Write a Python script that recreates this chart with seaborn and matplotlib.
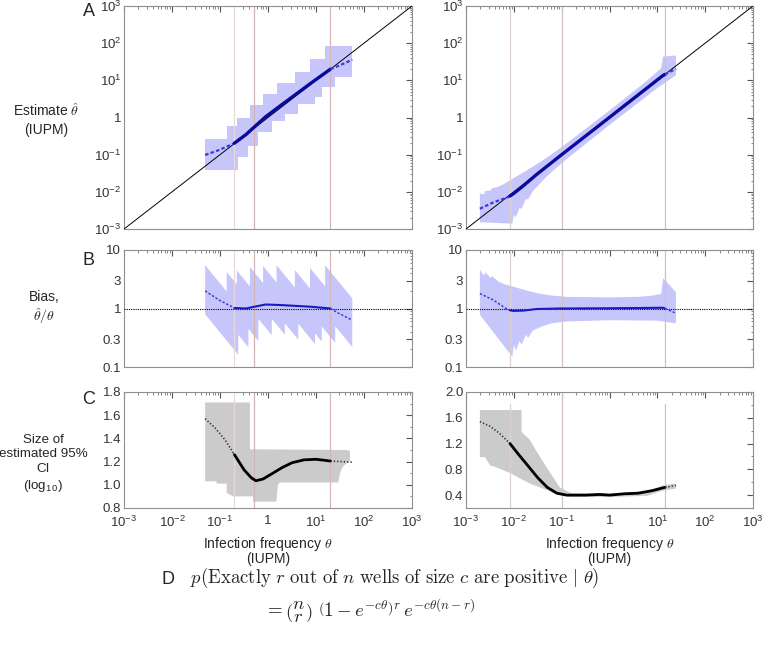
import numpy as np
import matplotlib
matplotlib.use("Agg")
import matplotlib.pyplot as plt
import seaborn as sns
from matplotlib.ticker import LogLocator, FixedLocator, FixedFormatter, NullFormatter, MultipleLocator

# ---------------- data ----------------
axis_range = [1e-3, 1e3]                       # identity line / x-range
x_ticks = [1e-3, 1e-2, 1e-1, 1, 1e1, 1e2, 1e3]
x_tick_labels = [r'$\mathregular{10^{-3}}$', r'$\mathregular{10^{-2}}$', r'$\mathregular{10^{-1}}$', '1',
                 r'$\mathregular{10^{1}}$', r'$\mathregular{10^{2}}$', r'$\mathregular{10^{3}}$']
bias_ticks = [0.1, 0.3, 1, 3, 10]
bias_tick_labels = ['0.1', '0.3', '1', '3', '10']

# vertical reference lines (theta)
vlines_L = [0.2, 0.5, 20]
vlines_R = [0.0083, 0.1, 14.5]

# ---- left column ----
# estimate band (staircase): edges along theta and level between edges
est_hi_edges_L = [0.049, 0.138, 0.224, 0.42, 0.79, 1.51, 3.63, 7.5, 15.5, 57]
est_hi_L = [0.27, 0.58, 1.0, 2.15, 4.2, 8.3, 16.5, 37, 85]
est_lo_edges_L = [0.049, 0.24, 0.39, 0.63, 1.2, 2.24, 4.27, 9.55, 13.2, 25.1, 57]
est_lo_L = [0.039, 0.085, 0.175, 0.42, 0.80, 1.25, 2.35, 3.6, 6.5, 12.5]
# mean bias (theta_hat / theta)
theta_L = [0.049, 0.095, 0.2, 0.35, 0.51, 0.89, 1.66, 3.63, 8.1, 20, 29.5, 57]
bias_L = [2.0, 1.4, 1.02, 1.0, 1.07, 1.17, 1.15, 1.11, 1.07, 1.0, 0.83, 0.63]
# CI size
ci_theta_L = [0.049, 0.079, 0.126, 0.2, 0.316, 0.45, 0.56, 0.79, 1.26, 2.0, 3.16, 5.6, 10, 20, 57]
ci_L = [1.57, 1.49, 1.39, 1.26, 1.13, 1.06, 1.035, 1.05, 1.10, 1.15, 1.19, 1.215, 1.22, 1.205, 1.195]
ci_hi_theta_L = [0.049, 0.42, 0.42, 44, 51, 51, 37, 32, 29]
ci_hi_L = [1.71, 1.71, 1.306, 1.30, 1.29, 1.21, 1.16, 1.11, 1.02]
ci_lo_theta_L = [0.049, 0.085, 0.085, 0.138, 0.138, 0.19, 0.49, 0.49, 1.5, 1.6, 1.78, 29]
ci_lo_L = [1.03, 1.03, 1.01, 1.01, 0.93, 0.90, 0.90, 0.855, 0.855, 1.0, 1.02, 1.02]

# ---- right column ----
bias_hi_theta_R = [0.00195, 0.0024, 0.0025, 0.0033, 0.00347, 0.0047, 0.0063, 0.01, 0.0158, 0.0316,
                   0.063, 0.126, 1.0, 3.98, 7.9, 12.0, 13.2, 24.5]
bias_hi_R = [4.6, 3.6, 4.2, 3.3, 3.6, 2.9, 2.6, 2.35, 2.1, 1.82, 1.66, 1.58, 1.55, 1.58, 1.66, 1.78, 3.3, 1.9]
bias_lo_theta_R = [0.00195, 0.0093, 0.01, 0.011, 0.0132, 0.0145, 0.0178, 0.02, 0.025, 0.04, 0.063,
                   0.126, 1.0, 10, 13.2, 24.5]
bias_lo_R = [0.78, 0.15, 0.24, 0.19, 0.28, 0.24, 0.355, 0.316, 0.42, 0.50, 0.56, 0.60, 0.63, 0.62, 0.60, 0.56]
theta_R = [0.00195, 0.0037, 0.0071, 0.0083, 0.0098, 0.0158, 0.030, 0.091, 1.0, 4.0, 12.9, 14.5, 17.8, 24.5]
bias_R = [1.8, 1.4, 0.98, 0.93, 0.91, 0.92, 0.98, 1.0, 1.01, 1.02, 1.03, 1.0, 0.93, 0.83]
ci_theta_R = [0.00195, 0.00316, 0.005, 0.0083, 0.0126, 0.02, 0.0316, 0.05, 0.079, 0.126, 0.316, 0.63,
              1.0, 2.0, 4.0, 7.9, 14.5, 24.5]
ci_R = [1.54, 1.47, 1.36, 1.20, 1.03, 0.85, 0.67, 0.52, 0.43, 0.40, 0.40, 0.41, 0.40, 0.42, 0.43, 0.47, 0.52, 0.55]
ci_hi_theta_R = [0.00195, 0.0145, 0.0145, 0.0214, 0.0347, 0.056, 0.091, 0.158, 1.0, 6.3, 12.6, 24.5]
ci_hi_R = [1.72, 1.72, 1.38, 1.26, 1.0, 0.76, 0.52, 0.43, 0.42, 0.46, 0.55, 0.58]
ci_lo_theta_R = [0.00195, 0.0025, 0.0032, 0.004, 0.0085, 0.0214, 0.048, 0.091, 0.158, 1.0, 6.3, 12.6, 24.5]
ci_lo_R = [0.99, 0.99, 0.86, 0.84, 0.74, 0.58, 0.48, 0.40, 0.37, 0.37, 0.39, 0.47, 0.50]

# ---------------- style ----------------
sns.set_theme(style="white")
plt.rcParams['font.family'] = ['Liberation Sans', 'DejaVu Sans']
plt.rcParams['mathtext.fontset'] = 'cm'

BAND_BLUE = '#c6c6fb'
BAND_GRAY = '#cbcbcb'
LINE_BLUE = '#0a0a9c'
DASH_BLUE = '#3a3ae0'
VL_COLS = ['#ead8d8', '#d2b4b4', '#d4b8b8']
VL_COLS_R = ['#ddd0d0', '#d0c2c2', '#d2c0c0']

fig = plt.figure(figsize=(7.63, 6.49), dpi=100)
W, H = 763.0, 649.0
cols = [(124, 412), (466, 753)]
rows = [(6, 229), (250, 367), (392, 508)]


def make_ax(c, r):
    x0, x1 = cols[c]
    y0, y1 = rows[r]
    return fig.add_axes([x0 / W, 1 - y1 / H, (x1 - x0) / W, (y1 - y0) / H])


def style(ax, xlabels):
    for s in ax.spines.values():
        s.set_color('#8f8f8f')
        s.set_linewidth(0.8)
    ax.set_xscale('log')
    ax.set_xlim(axis_range)
    ax.xaxis.set_major_locator(FixedLocator(x_ticks))
    ax.xaxis.set_minor_locator(LogLocator(base=10, subs=np.arange(2, 10), numticks=20))
    ax.xaxis.set_minor_formatter(NullFormatter())
    if xlabels:
        ax.xaxis.set_major_formatter(FixedFormatter(x_tick_labels))
    else:
        ax.xaxis.set_major_formatter(NullFormatter())
    ax.tick_params(which='both', direction='in', top=True, right=True, colors='#555555',
                   labelsize=9.5, labelcolor='#333333', pad=2)
    ax.tick_params(axis='x', which='major', pad=5)
    ax.tick_params(which='major', length=4, width=0.8)
    ax.tick_params(which='minor', length=1.8, width=0.5)
    ax.grid(False)


def polygon(ax, tx_hi, y_hi, tx_lo, y_lo, color):
    xs = np.concatenate([np.asarray(tx_hi, float), np.asarray(tx_lo, float)[::-1]])
    ys = np.concatenate([np.asarray(y_hi, float), np.asarray(y_lo, float)[::-1]])
    ax.fill(xs, ys, color=color, lw=0, zorder=1)


def stairs(edges, levels):
    e = np.asarray(edges, float)
    l = np.asarray(levels, float)
    return np.repeat(e, 2)[1:-1], np.repeat(l, 2)


def seg_plot(ax, th, vals, t1, t3, c_d, c_s, lw_d, lw_s, ls_d):
    th = np.asarray(th, float)
    vals = np.asarray(vals, float)
    m1 = th <= t1 * 1.0001
    m2 = (th >= t1 * 0.9999) & (th <= t3 * 1.0001)
    m3 = th >= t3 * 0.9999
    for m, c, lw, ls in [(m1, c_d, lw_d, ls_d), (m2, c_s, lw_s, '-'), (m3, c_d, lw_d, ls_d)]:
        sns.lineplot(x=th[m], y=vals[m], ax=ax, color=c, lw=lw, linestyle=ls,
                     estimator=None, sort=False, legend=False, zorder=4)


def vlines(ax, ts, colors, partial=None):
    for i, (t, c) in enumerate(zip(ts, colors)):
        if partial is not None and i in partial[0]:
            ax.axvline(t, ymax=partial[1], color=c, lw=0.9, zorder=2)
        else:
            ax.axvline(t, color=c, lw=0.9, zorder=2)


# ---------- build band vertices ----------
hx_L, hy_L = stairs(est_hi_edges_L, est_hi_L)
lx_L, ly_L = stairs(est_lo_edges_L, est_lo_L)
theta_L_a = np.asarray(theta_L)
est_L = np.asarray(bias_L) * theta_L_a

th_hi_R = np.asarray(bias_hi_theta_R)
th_lo_R = np.asarray(bias_lo_theta_R)
theta_R_a = np.asarray(theta_R)
est_R = np.asarray(bias_R) * theta_R_a

for c in range(2):
    axA = make_ax(c, 0)
    axB = make_ax(c, 1)
    axC = make_ax(c, 2)
    style(axA, False)
    style(axB, False)
    style(axC, True)

    # ----- A -----
    axA.set_yscale('log')
    axA.set_ylim(axis_range)
    axA.yaxis.set_major_locator(FixedLocator(x_ticks))
    axA.yaxis.set_major_formatter(FixedFormatter(x_tick_labels))
    axA.yaxis.set_minor_locator(LogLocator(base=10, subs=np.arange(2, 10), numticks=20))
    axA.yaxis.set_minor_formatter(NullFormatter())
    sns.lineplot(x=axis_range, y=axis_range, ax=axA, color='black', lw=0.7, zorder=3, legend=False)

    # ----- B -----
    axB.set_yscale('log')
    axB.set_ylim(0.1, 10)
    axB.yaxis.set_major_locator(FixedLocator(bias_ticks))
    axB.yaxis.set_major_formatter(FixedFormatter(bias_tick_labels))
    axB.yaxis.set_minor_locator(LogLocator(base=10, subs=np.arange(2, 10), numticks=20))
    axB.yaxis.set_minor_formatter(NullFormatter())
    axB.axhline(1, color='black', lw=0.8, ls=(0, (1, 1)), zorder=3)

    # ----- C -----
    if c == 0:
        axC.set_ylim(0.8, 1.8)
        axC.yaxis.set_major_locator(MultipleLocator(0.2))
        axC.yaxis.set_minor_locator(MultipleLocator(0.1))
    else:
        axC.set_ylim(0.2, 2.0)
        axC.yaxis.set_major_locator(MultipleLocator(0.4))
        axC.yaxis.set_minor_locator(MultipleLocator(0.2))
    axC.yaxis.set_major_formatter(matplotlib.ticker.FormatStrFormatter('%.1f'))

    if c == 0:
        polygon(axA, hx_L, hy_L, lx_L, ly_L, BAND_BLUE)
        polygon(axB, hx_L, hy_L / hx_L, lx_L, ly_L / lx_L, BAND_BLUE)
        polygon(axC, ci_hi_theta_L, ci_hi_L, ci_lo_theta_L, ci_lo_L, BAND_GRAY)
        vlines(axA, vlines_L, VL_COLS)
        vlines(axB, vlines_L, VL_COLS)
        vlines(axC, vlines_L, VL_COLS)
        t1, t3 = vlines_L[0], vlines_L[2]
        seg_plot(axA, theta_L_a, est_L, t1, t3, DASH_BLUE, LINE_BLUE, 1.6, 2.4, (0, (1.6, 1.0)))
        seg_plot(axB, theta_L_a, bias_L, t1, t3, DASH_BLUE, '#1a1ac0', 1.1, 1.5, (0, (1.5, 1.2)))
        seg_plot(axC, ci_theta_L, ci_L, t1, t3, '#333333', 'black', 1.2, 2.0, (0, (0.8, 1.2)))
    else:
        polygon(axA, th_hi_R, np.asarray(bias_hi_R) * th_hi_R, th_lo_R, np.asarray(bias_lo_R) * th_lo_R, BAND_BLUE)
        polygon(axB, th_hi_R, bias_hi_R, th_lo_R, bias_lo_R, BAND_BLUE)
        polygon(axC, ci_hi_theta_R, ci_hi_R, ci_lo_theta_R, ci_lo_R, BAND_GRAY)
        vlines(axA, vlines_R, VL_COLS_R)
        vlines(axB, vlines_R, VL_COLS_R)
        vlines(axC, vlines_R, VL_COLS_R, partial=([0, 2], (1.82 - 0.2) / 1.8))
        t1, t3 = vlines_R[0], vlines_R[2]
        seg_plot(axA, theta_R_a, est_R, t1, t3, DASH_BLUE, LINE_BLUE, 1.6, 2.4, (0, (1.6, 1.0)))
        seg_plot(axB, theta_R_a, bias_R, t1, t3, DASH_BLUE, '#1a1ac0', 1.1, 1.5, (0, (1.5, 1.2)))
        seg_plot(axC, ci_theta_R, ci_R, t1, t3, '#333333', 'black', 1.2, 2.0, (0, (0.8, 1.2)))

    for ax in (axA, axB, axC):
        ax.set_xlabel('')
        ax.set_ylabel('')

# ---------------- texts ----------------
def ftext(x, y, s, **kw):
    kw.setdefault('ha', 'center')
    kw.setdefault('va', 'center')
    fig.text(x / W, 1 - y / H, s, **kw)

ftext(89, 11, 'A', fontsize=13)
ftext(89, 261, 'B', fontsize=13)
ftext(89, 399, 'C', fontsize=13)
ftext(168, 579, 'D', fontsize=13)

ftext(46, 120, 'Estimate $\\hat{\\theta}$\n(IUPM)', fontsize=10, linespacing=1.35, multialignment='center')
ftext(44, 308, 'Bias,\n$\\hat{\\theta}/\\theta$', fontsize=10, linespacing=1.2, multialignment='center')
ftext(43, 464, 'Size of\nestimated 95%\nCI\n(log$_{\\mathregular{10}}$)', fontsize=9.6,
      linespacing=1.3, multialignment='center')

for xc in ((124 + 412) / 2, (466 + 753) / 2):
    ftext(xc, 544, 'Infection frequency $\\theta$', fontsize=10)
    ftext(xc, 559, '(IUPM)', fontsize=10)

ftext(190, 578, r'$p(\mathrm{Exactly}\ r\ \mathrm{out\ of}\ n\ \mathrm{wells\ of\ size}\ c\ \mathrm{are\ positive}\ |\ \theta)$',
      fontsize=13.5, ha='left')
ftext(264, 611, r'$=\genfrac{(}{)}{0}{0}{n}{r}\ \left(1-e^{-c\theta}\right)^{r}\,e^{-c\theta(n-r)}$',
      fontsize=13.5, ha='left')

fig.savefig('out.png', dpi=100)
